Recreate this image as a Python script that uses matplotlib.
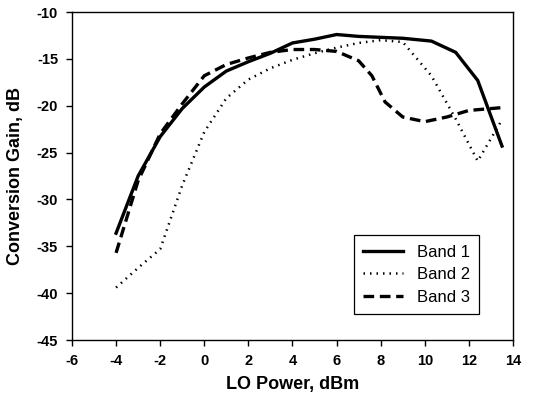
import matplotlib
matplotlib.use("Agg")
import matplotlib.pyplot as plt

plt.rcParams['font.family'] = ['Liberation Sans', 'DejaVu Sans']
plt.rcParams['axes.unicode_minus'] = False

# LO power (dBm) and conversion gain (dB)
x1 = [-4, -3, -2, -1, 0, 1, 2, 3, 4, 5, 6, 7, 8, 9, 10.3, 11.4, 12.4, 13.5]
band1 = [-33.6, -27.5, -23.3, -20.3, -18.0, -16.3, -15.3, -14.4, -13.3, -12.9,
         -12.4, -12.6, -12.7, -12.8, -13.1, -14.3, -17.3, -24.3]

x2 = [-4, -3, -2, -1, 0, 1, 2, 3, 4, 5, 6, 7, 8, 9, 10.3, 11.4, 12.4, 13.5]
band2 = [-39.4, -37.3, -35.3, -28.5, -22.8, -19.2, -17.2, -16.0, -15.1, -14.4,
         -13.8, -13.3, -13.0, -13.2, -16.8, -21.4, -25.9, -21.5]

x3 = [-4, -3, -2, -1, 0, 1, 2, 3, 4, 5, 6, 7, 7.6, 8.2, 9, 10, 11, 12, 13.5]
band3 = [-35.7, -28.0, -23.0, -19.8, -16.8, -15.6, -14.9, -14.3, -14.0, -14.0,
         -14.2, -15.2, -16.8, -19.6, -21.2, -21.7, -21.2, -20.5, -20.2]

xticks = [-6, -4, -2, 0, 2, 4, 6, 8, 10, 12, 14]
yticks = [-45, -40, -35, -30, -25, -20, -15, -10]

fig = plt.figure(figsize=(5.33, 4.01), dpi=100)
ax = fig.add_axes([0.135, 0.152, 0.8275, 0.818])

ax.plot(x1, band1, color='black', lw=2.4, ls='-', label='Band 1')
ax.plot(x2, band2, color='black', lw=1.8, ls=(0, (0.6, 2.0)), label='Band 2')
ax.plot(x3, band3, color='black', lw=2.4, ls=(0, (3.2, 1.7)), label='Band 3')

ax.set_xlim(-6, 14)
ax.set_ylim(-45, -10)
ax.set_xticks(xticks)
ax.set_yticks(yticks)
ax.tick_params(direction='out', length=4, width=1, labelsize=10.5, pad=6)
for lab in ax.get_xticklabels() + ax.get_yticklabels():
    lab.set_fontweight('bold')
for s in ax.spines.values():
    s.set_linewidth(1.0)

ax.set_xlabel('LO Power, dBm', fontsize=13, fontweight='bold', labelpad=6)
ax.set_ylabel('Conversion Gain, dB', fontsize=13, fontweight='bold', labelpad=9)

leg = ax.legend(loc='lower left', bbox_to_anchor=(0.64, 0.08), fontsize=12,
                fancybox=False, edgecolor='black', framealpha=1,
                handlelength=2.4, borderpad=0.55, labelspacing=0.45,
                borderaxespad=0)
leg.get_frame().set_linewidth(0.9)

fig.savefig('out.png', dpi=100)
